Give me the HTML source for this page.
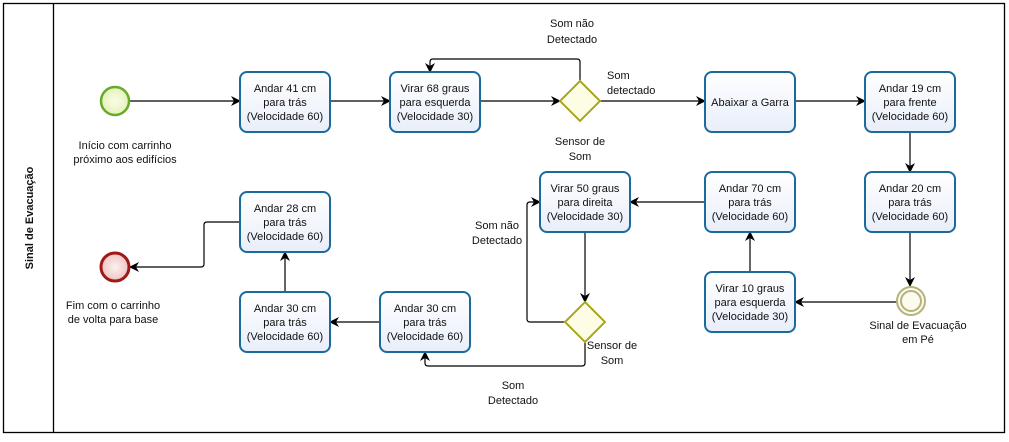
<!DOCTYPE html>
<html><head><meta charset="utf-8"><style>
body{margin:0;background:#fff}
svg text{font-family:"Liberation Sans","DejaVu Sans",sans-serif;font-size:11px;fill:#111}
</style></head><body>
<svg width="1009" height="437" viewBox="0 0 1009 437" xmlns="http://www.w3.org/2000/svg">
<defs>
<marker id="ar" markerWidth="10" markerHeight="10" refX="9" refY="5" orient="auto" markerUnits="userSpaceOnUse">
<path d="M0,0 L10,5 L0,10 L3,5 Z" fill="#000"/></marker>
<linearGradient id="bg" x1="0" y1="0" x2="0" y2="1"><stop offset="0" stop-color="#fff"/><stop offset="1" stop-color="#e8eefa"/></linearGradient>
<radialGradient id="gg"><stop offset="0" stop-color="#fbfde8"/><stop offset="1" stop-color="#e2f2b8"/></radialGradient>
<radialGradient id="rg"><stop offset="0" stop-color="#fdf0f0"/><stop offset="1" stop-color="#eec4c4"/></radialGradient>
</defs>
<rect x="3.5" y="3.5" width="1001" height="429" fill="#fff" stroke="#000" stroke-width="1.3"/>
<line x1="53.5" y1="3.5" x2="53.5" y2="432.5" stroke="#000" stroke-width="1.3"/>
<text transform="translate(33,218) rotate(-90)" text-anchor="middle" style="font-weight:bold">Sinal de Evacuação</text>

<g fill="none" stroke="#000" stroke-width="1.2">
<path d="M129,101 H240" marker-end="url(#ar)"/>
<path d="M330,101 H390" marker-end="url(#ar)"/>
<path d="M480,101 H560" marker-end="url(#ar)"/>
<path d="M580,81 V62 Q580,59 577,59 H433 Q430,59 430,62 V72" marker-end="url(#ar)"/>
<path d="M600,101 H705" marker-end="url(#ar)"/>
<path d="M795,101 H865" marker-end="url(#ar)"/>
<path d="M910,132 V172" marker-end="url(#ar)"/>
<path d="M910,232 V286" marker-end="url(#ar)"/>
<path d="M897,302 H795" marker-end="url(#ar)"/>
<path d="M750,272 V232" marker-end="url(#ar)"/>
<path d="M705,202 H630" marker-end="url(#ar)"/>
<path d="M585,232 V302" marker-end="url(#ar)"/>
<path d="M565,322 H530 Q527,322 527,319 V205 Q527,202 530,202 H540" marker-end="url(#ar)"/>
<path d="M585,342 V363 Q585,366 582,366 H428 Q425,366 425,363 V352" marker-end="url(#ar)"/>
<path d="M380,322 H330" marker-end="url(#ar)"/>
<path d="M285,292 V252" marker-end="url(#ar)"/>
<path d="M240,222 H207 Q204,222 204,225 V264 Q204,267 201,267 H130" marker-end="url(#ar)"/>
</g>

<g fill="url(#bg)" stroke="#1b6a9c" stroke-width="2">
<rect x="240" y="72" width="90" height="60" rx="7"/>
<rect x="390" y="72" width="90" height="60" rx="7"/>
<rect x="705" y="72" width="90" height="60" rx="7"/>
<rect x="865" y="72" width="90" height="60" rx="7"/>
<rect x="865" y="172" width="90" height="60" rx="7"/>
<rect x="705" y="272" width="90" height="60" rx="7"/>
<rect x="705" y="172" width="90" height="60" rx="7"/>
<rect x="540" y="172" width="90" height="60" rx="7"/>
<rect x="380" y="292" width="90" height="60" rx="7"/>
<rect x="240" y="292" width="90" height="60" rx="7"/>
<rect x="240" y="192" width="90" height="60" rx="7"/>
</g>
<circle cx="115" cy="101" r="14" fill="url(#gg)" stroke="#6aaa2a" stroke-width="2.5"/>
<circle cx="115" cy="267" r="14" fill="url(#rg)" stroke="#a01818" stroke-width="3"/>
<circle cx="911" cy="301" r="14" fill="#fbfbef" stroke="#b5b27a" stroke-width="2"/>
<circle cx="911" cy="301" r="10" fill="none" stroke="#b5b27a" stroke-width="2"/>
<path d="M580,81 L600,101 L580,121 L560,101 Z" fill="#fdfde6" stroke="#a8a820" stroke-width="2"/>
<path d="M585,302 L605,322 L585,342 L565,322 Z" fill="#fdfde6" stroke="#a8a820" stroke-width="2"/>

<g text-anchor="middle">
<text x="285" y="92">Andar 41 cm</text><text x="285" y="106">para trás</text><text x="285" y="120">(Velocidade 60)</text>
<text x="435" y="92">Virar 68 graus</text><text x="435" y="106">para esquerda</text><text x="435" y="120">(Velocidade 30)</text>
<text x="750" y="106">Abaixar a Garra</text>
<text x="910" y="92">Andar 19 cm</text><text x="910" y="106">para frente</text><text x="910" y="120">(Velocidade 60)</text>
<text x="910" y="192">Andar 20 cm</text><text x="910" y="206">para trás</text><text x="910" y="220">(Velocidade 60)</text>
<text x="750" y="292">Virar 10 graus</text><text x="750" y="306">para esquerda</text><text x="750" y="320">(Velocidade 30)</text>
<text x="750" y="192">Andar 70 cm</text><text x="750" y="206">para trás</text><text x="750" y="220">(Velocidade 60)</text>
<text x="585" y="192">Virar 50 graus</text><text x="585" y="206">para direita</text><text x="585" y="220">(Velocidade 30)</text>
<text x="425" y="312">Andar 30 cm</text><text x="425" y="326">para trás</text><text x="425" y="340">(Velocidade 60)</text>
<text x="285" y="312">Andar 30 cm</text><text x="285" y="326">para trás</text><text x="285" y="340">(Velocidade 60)</text>
<text x="285" y="212">Andar 28 cm</text><text x="285" y="226">para trás</text><text x="285" y="240">(Velocidade 60)</text>
<text x="125" y="149">Início com carrinho</text><text x="125" y="163">próximo aos edifícios</text>
<text x="113" y="309">Fim com o carrinho</text><text x="113" y="323">de volta para base</text>
<text x="572" y="27">Som não</text><text x="572" y="43">Detectado</text>
<text x="580" y="145">Sensor de</text><text x="580" y="160">Som</text>
<text x="497" y="229">Som não</text><text x="497" y="244">Detectado</text>
<text x="612" y="349">Sensor de</text><text x="612" y="364">Som</text>
<text x="513" y="389">Som</text><text x="513" y="404">Detectado</text>
<text x="918" y="329">Sinal de Evacuação</text><text x="918" y="343">em Pé</text>
</g>
<text x="607" y="79">Som</text><text x="607" y="94">detectado</text>
</svg>
</body></html>
